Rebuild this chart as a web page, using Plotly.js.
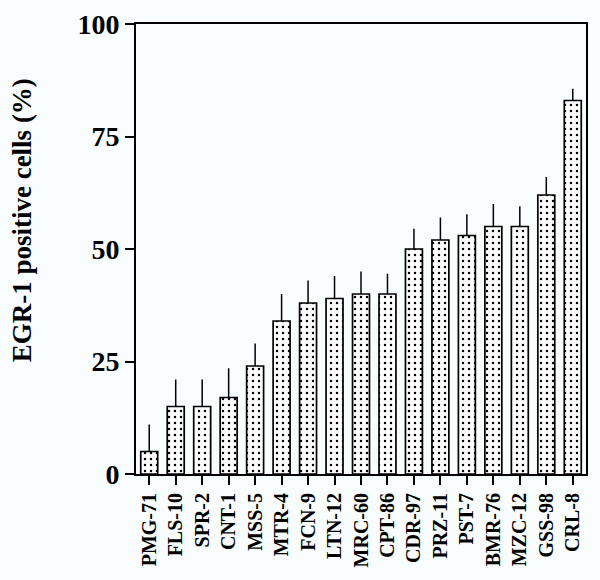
<!DOCTYPE html>
<html>
<head>
<meta charset="utf-8">
<script src="https://cdn.plot.ly/plotly-3.0.1.min.js"></script>
<style>
  html, body { margin: 0; padding: 0; background: #f9fdfd; }
  #plotArea { width: 600px; height: 580px; }
</style>
</head>
<body>
<div id="plotArea"></div>
<script>
// cell lines, sorted by EGR-1 positive cells
var cellLines = ["PMG-71", "FLS-10", "SPR-2", "CNT-1", "MSS-5", "MTR-4", "FCN-9", "LTN-12", "MRC-60",
  "CPT-86", "CDR-97", "PRZ-11", "PST-7", "BMR-76", "MZC-12", "GSS-98", "CRL-8"]
var positivePct = [5, 15, 15, 17, 24, 34, 38, 39, 40, 40, 50, 52, 53, 55, 55, 62, 83]
var errUp = [6, 6, 6, 6.5, 5, 6, 5, 5, 5, 4.5, 4.5, 5, 4.7, 5, 4.5, 4, 2.6]
var errDown = positivePct.map(v => 0)

var yTicks = [0, 25, 50, 75, 100]

var serif = "Liberation Serif, Times New Roman, serif"

var trace = {
  x: cellLines,
  y: positivePct,
  type: "bar",
  width: 0.64,
  marker: {
    color: "#ffffff",
    line: { color: "#000000", width: 1.7 },
    pattern: { shape: ".", fgcolor: "#000000", bgcolor: "#ffffff", size: 6, solidity: 0.14 }
  },
  error_y: {
    type: "data",
    symmetric: false,
    array: errUp,
    arrayminus: errDown,
    color: "#000000",
    thickness: 1.5,
    width: 0
  },
  hoverinfo: "x+y"
}

var layout = {
  width: 600,
  height: 580,
  margin: { l: 136, r: 14, t: 24, b: 106 },
  paper_bgcolor: "#f9fdfd",
  plot_bgcolor: "#f9fdfd",
  showlegend: false,
  font: { family: serif, color: "#000000", weight: "bold" },
  xaxis: {
    range: [-0.5, 16.5],
    tickangle: -90,
    ticks: "outside",
    ticklen: 9,
    tickwidth: 1.5,
    tickcolor: "#000",
    showline: true,
    linewidth: 2,
    linecolor: "#000",
    mirror: true,
    showgrid: false,
    zeroline: false,
    tickfont: { family: serif, size: 20, weight: "bold" }
  },
  yaxis: {
    range: [0, 100],
    tickvals: yTicks,
    ticks: "outside",
    ticklen: 9,
    tickwidth: 1.5,
    tickcolor: "#000",
    showline: true,
    linewidth: 2,
    linecolor: "#000",
    mirror: true,
    showgrid: false,
    zeroline: false,
    tickfont: { family: serif, size: 28, weight: "bold" }
  },
  annotations: [{
    text: "EGR-1 positive cells (%)",
    xref: "paper", yref: "paper",
    x: -0.253, y: 0.564,
    xanchor: "center", yanchor: "middle",
    textangle: -90,
    showarrow: false,
    font: { family: serif, size: 27, weight: "bold", color: "#000" }
  }]
}

Plotly.newPlot("plotArea", [trace], layout, { displayModeBar: false })
</script>
</body>
</html>
